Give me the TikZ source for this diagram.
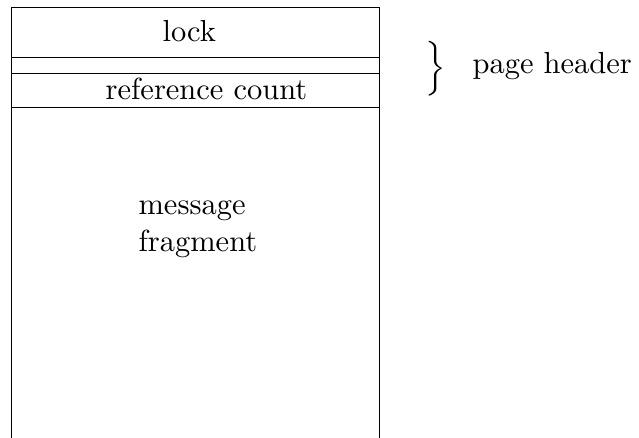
\documentclass[tikz,border=0pt]{standalone}
\usepackage{amsmath, amssymb}
\usepackage{tikz}
\usetikzlibrary{calc}
\tikzset{txt/.style={inner sep=0pt, anchor=base}}
\tikzset{sep/.style={draw, thin}}

\begin{document}
\begin{tikzpicture}

\useasboundingbox (0,0) rectangle (7.368,5.05);

% open box, no bottom edge
\draw [thin] (0.135,0) -- (0.135,4.964) -- (4.373,4.964) -- (4.373,0);

\foreach \y in {4.385,4.2,3.813} {\draw [thin] (0.135,\y) -- (4.373,\y);}

\node [txt] (lock) at (2.183,4.569) {lock};
\node [txt] (refcount) at (2.381,3.905) {reference count};

\node [txt, anchor=base west] (msg) at (1.591,2.571) {message};
\node [txt, anchor=base west] (frag) at (1.591,2.148) {fragment};

\node [] (brace) at (5.027,4.252) {$\Big\}$};
\node [txt, anchor=base west] (hdr) at (5.442,4.205) {page header};

\end{tikzpicture}
\end{document}
